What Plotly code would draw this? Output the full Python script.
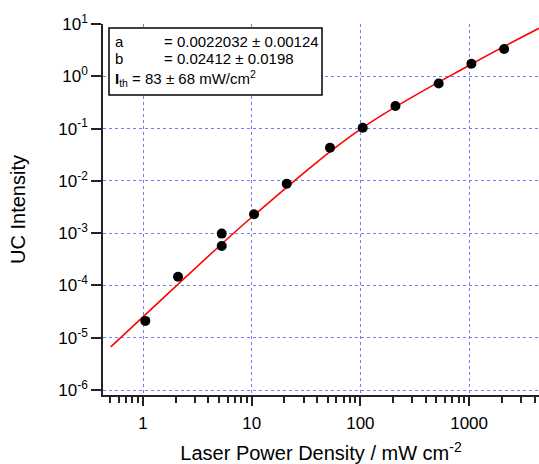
import plotly.graph_objects as go

# data points
power = [1.05, 2.1, 5.3, 5.3, 10.5, 21.0, 52.5, 105, 210, 525, 1050, 2100]
intensity = [2.1e-5, 1.47e-4, 9.8e-4, 5.7e-4, 2.3e-3, 8.8e-3, 4.3e-2, 0.104, 0.27, 0.73, 1.74, 3.32]

# fitted curve, points
fit_x = [0.505, 1.0, 10.5, 105, 1057, 4400]
fit_y = [6.7e-6, 2.5e-5, 2.2e-3, 0.104, 1.72, 8.28]

x_tickvals = [1, 10, 100, 1000]
x_ticktext = ["1", "10", "100", "1000"]
y_tickvals = [1e1, 1e0, 1e-1, 1e-2, 1e-3, 1e-4, 1e-5, 1e-6]
y_ticktext = ["10<sup>1</sup>", "10<sup>0</sup>", "10<sup>-1</sup>", "10<sup>-2</sup>",
              "10<sup>-3</sup>", "10<sup>-4</sup>", "10<sup>-5</sup>", "10<sup>-6</sup>"]
x_minor = [m * d for d in [0.1, 1, 10, 100, 1000] for m in range(2, 10) if 0.43 < m * d < 4500]

FONT = "Liberation Sans, Arial, sans-serif"
GRID = "rgb(120,120,255)"
AX = "#222222"

W, H = 539, 464
L, T, B = 103, 24, 69
PW, PH = W - L, H - T - B

fig = go.Figure()
fig.add_trace(go.Scatter(x=fit_x, y=fit_y, mode="lines", line=dict(color="red", width=1.6, shape="spline"),
                         hoverinfo="skip", showlegend=False))
fig.add_trace(go.Scatter(x=power, y=intensity, mode="markers",
                         marker=dict(color="black", size=10), showlegend=False))

fig.update_layout(
    width=W, height=H,
    margin=dict(l=L, r=0, t=T, b=B, pad=0),
    paper_bgcolor="white", plot_bgcolor="white",
    font=dict(family=FONT, color="black"),
    xaxis=dict(type="log", range=[-0.368, 3.643], automargin=False,
               tickmode="array", tickvals=x_tickvals, ticktext=x_ticktext,
               ticks="outside", ticklen=9, tickwidth=1.5, tickcolor=AX,
               ticklabelstandoff=3,
               showline=True, linecolor=AX, linewidth=1.5,
               showgrid=True, gridcolor=GRID, griddash="dot", gridwidth=1,
               zeroline=False, tickfont=dict(size=17),
               minor=dict(tickmode="array", tickvals=x_minor, ticks="outside", ticklen=6,
                          tickwidth=1.5, tickcolor=AX, showgrid=False),
               title=dict(text="Laser Power Density / mW cm<sup>-2</sup>", font=dict(size=20), standoff=18)),
    yaxis=dict(type="log", range=[-6.095, 1.0], automargin=False,
               tickmode="array", tickvals=y_tickvals, ticktext=y_ticktext,
               ticks="outside", ticklen=10, tickwidth=1.5, tickcolor=AX,
               showline=True, linecolor=AX, linewidth=1.5,
               showgrid=True, gridcolor=GRID, griddash="dot", gridwidth=1,
               zeroline=False, tickfont=dict(size=17),
               title=dict(text="UC Intensity", font=dict(size=20), standoff=27)),
)

def px_x(p):
    return (p - L) / PW

def px_y(p):
    return (T + PH - p) / PH

# fit results box
fig.add_shape(type="rect", xref="paper", yref="paper",
              x0=px_x(109), x1=px_x(322), y0=px_y(95), y1=px_y(28),
              line=dict(color="black", width=1.5), fillcolor="white", layer="above")

rows = [
    (113, 42, "a"), (162, 42, "= 0.0022032 ± 0.00124"),
    (113, 59, "b"), (162, 59, "= 0.02412 ± 0.0198"),
    (113, 78, "<b>I</b><sub>th</sub> = 83 ± 68 mW/cm<sup>2</sup>"),
]
for x, y, t in rows:
    fig.add_annotation(x=px_x(x), y=px_y(y), xref="paper", yref="paper", text=t,
                       showarrow=False, xanchor="left", yanchor="middle",
                       font=dict(size=15, family=FONT, color="black"))

fig.write_html("out.html", config={"displayModeBar": False},
               post_script="document.body.style.margin='0px';document.body.style.overflow='hidden';")
